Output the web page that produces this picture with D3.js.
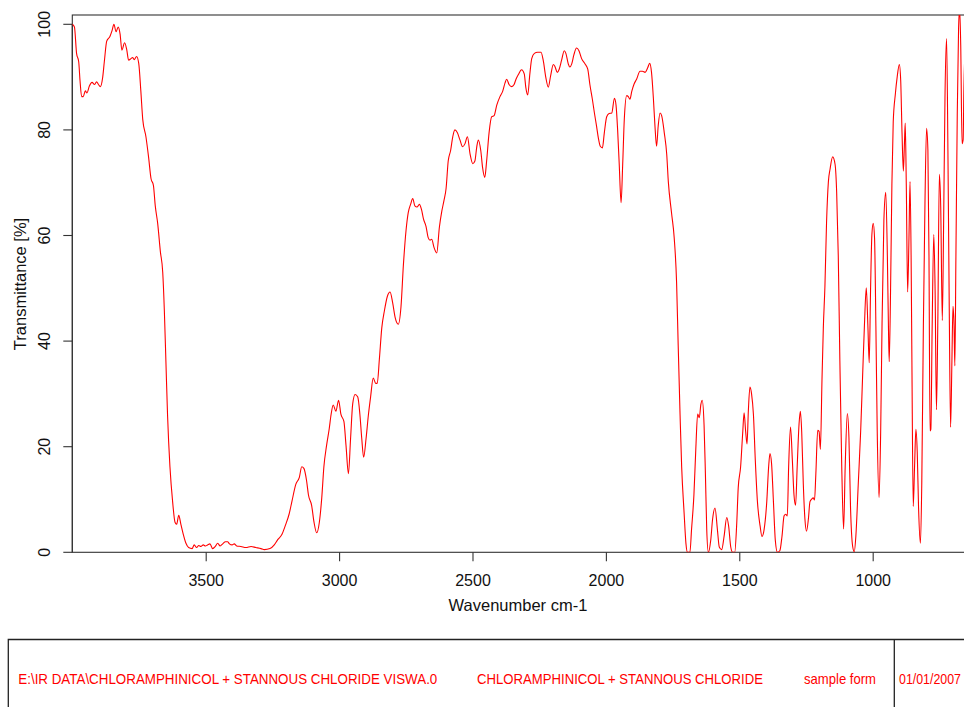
<!DOCTYPE html>
<html>
<head>
<meta charset="utf-8">
<script src="https://cdn.jsdelivr.net/npm/d3@7"></script>
<style>
  html, body { margin: 0; padding: 0; background: #fff; }
  svg { display: block; }
  text { font-family: "Liberation Sans", Arial, sans-serif; }
</style>
</head>
<body>
<svg id="chart"></svg>
<script>
const WIDTH = 964;
const HEIGHT = 707;
const PLOT = { left: 72.3, right: 979.4, top: 15, bottom: 552.3, y100: 24.3 };
const LINE_COLOR = "#ff0000";

// spectrum, high wavenumber first
const wavenumber = [
  4000, 3992, 3984, 3976, 3971, 3965, 3959, 3951, 3945, 3936, 3926, 3917, 3909, 3902, 3895, 3886,
  3880, 3871, 3859, 3851, 3844, 3836, 3828, 3821, 3814, 3804, 3796, 3789, 3780, 3774, 3768, 3759,
  3751, 3743, 3736, 3724, 3714, 3705, 3696, 3689, 3680, 3670, 3661, 3655, 3649, 3643, 3634, 3624,
  3615, 3609, 3601, 3593, 3584, 3574, 3564, 3551, 3543, 3534, 3526, 3518, 3509, 3501, 3493, 3484,
  3474, 3464, 3455, 3446, 3436, 3426, 3418, 3411, 3401, 3393, 3384, 3368, 3349, 3330, 3312, 3293,
  3280, 3259, 3243, 3230, 3214, 3202, 3187, 3177, 3162, 3149, 3140, 3132, 3122, 3115, 3103, 3094,
  3084, 3074, 3065, 3057, 3047, 3037, 3030, 3022, 3012, 3002, 2993, 2982, 2974, 2965, 2957, 2949,
  2940, 2930, 2922, 2915, 2908, 2899, 2890, 2882, 2872, 2863, 2857, 2849, 2840, 2830, 2819, 2809,
  2799, 2790, 2778, 2768, 2759, 2749, 2741, 2732, 2724, 2716, 2708, 2699, 2691, 2684, 2674, 2666,
  2659, 2653, 2644, 2634, 2624, 2615, 2607, 2599, 2591, 2582, 2574, 2566, 2557, 2547, 2537, 2528,
  2519, 2509, 2499, 2491, 2484, 2478, 2469, 2462, 2454, 2447, 2438, 2428, 2419, 2409, 2397, 2387,
  2378, 2372, 2363, 2353, 2344, 2337, 2328, 2316, 2306, 2300, 2293, 2285, 2278, 2268, 2256, 2243,
  2235, 2225, 2216, 2207, 2197, 2191, 2182, 2175, 2166, 2156, 2150, 2141, 2135, 2128, 2120, 2110,
  2101, 2091, 2078, 2068, 2060, 2051, 2043, 2035, 2028, 2021, 2013, 2006, 1997, 1988, 1978, 1968,
  1962, 1956, 1950, 1943, 1937, 1931, 1922, 1916, 1910, 1903, 1895, 1885, 1872, 1863, 1853, 1843,
  1836, 1829, 1822, 1816, 1810, 1804, 1797, 1791, 1781, 1772, 1766, 1754, 1744, 1735, 1729, 1722,
  1716, 1707, 1700, 1694, 1685, 1679, 1670, 1663, 1656, 1650, 1644, 1639, 1632, 1627, 1622, 1616,
  1607, 1600, 1591, 1582, 1575, 1566, 1557, 1547, 1540, 1532, 1525, 1517, 1510, 1504, 1495, 1487,
  1482, 1476, 1471, 1466, 1460, 1454, 1447, 1440, 1432, 1422, 1415, 1407, 1397, 1390, 1385, 1379,
  1372, 1365, 1357, 1348, 1340, 1332, 1326, 1320, 1315, 1308, 1301, 1295, 1289, 1283, 1276, 1271,
  1266, 1260, 1254, 1248, 1241, 1235, 1228, 1223, 1218, 1213, 1206, 1201, 1196, 1190, 1185, 1179,
  1173, 1166, 1160, 1150, 1141, 1135, 1129, 1123, 1116, 1109, 1103, 1095, 1089, 1083, 1075, 1069,
  1063, 1054, 1045, 1038, 1031, 1024, 1018, 1013, 1008, 1003, 998, 993, 988, 983, 976, 970,
  965, 958, 951, 945, 941, 938, 933, 928, 923, 915, 908, 900, 895, 890, 885, 881,
  878, 874, 869, 864, 860, 856, 853, 848, 843, 838, 833, 828, 821, 816, 810, 804,
  798, 793, 789, 785, 782, 777, 771, 766, 761, 756, 750, 745, 739, 734, 729, 723,
  718, 713, 708, 703, 699, 695, 692, 688, 683, 678, 674, 670, 665, 661, 658, 654
];
const transmittance = [
  100, 99.5, 94.5, 92.9, 89.3, 86.3, 86.3, 87.4, 87, 88.3, 89, 88.6, 89.1, 88.6, 88.2, 90,
  92.9, 96.8, 97.7, 98.8, 100, 98.6, 99.5, 98.2, 95.1, 96.5, 95.2, 93.2, 93.5, 93.7, 93.3, 93.9,
  92.6, 87.3, 82, 78.7, 74.8, 70.8, 69.5, 65.6, 62.3, 57, 53, 45.8, 35.9, 26, 16.2, 9.6,
  5.7, 5.3, 7, 5.3, 3.4, 1.7, 0.9, 0.7, 1.4, 0.9, 1.3, 1.1, 1.4, 1.2, 1.4, 1.6,
  0.7, 1.1, 1.7, 1.2, 1.6, 2, 2, 1.6, 1.4, 1.6, 1.2, 1.1, 0.9, 1.1, 0.9, 0.7,
  0.5, 0.7, 1.4, 2.4, 3.4, 5, 7.3, 9.6, 12.9, 14.2, 16.2, 15.9, 13.6, 10.9, 8.9, 5.7,
  3.7, 5.7, 10.3, 16.2, 20.2, 23.4, 26.1, 27.9, 26.7, 28.8, 26.1, 24.8, 20.2, 14.9, 21.5, 28.1,
  29.9, 29.4, 26.1, 21.5, 18, 21.5, 26.1, 29.4, 33, 32, 32, 36.6, 42.5, 45.8, 48.5, 49.3,
  47.2, 44.5, 43.2, 46.5, 54.4, 61, 64.3, 65.9, 67, 65.6, 65.4, 65.9, 64.9, 63.2, 61.7, 59.6,
  59.1, 59.3, 57.7, 56.7, 61.6, 64.6, 66.6, 68.9, 74.1, 76.1, 78.7, 80, 79.5, 78.1, 76.8, 77.4,
  78.7, 75.4, 73.6, 74.1, 76.8, 78.1, 76.1, 72.8, 71, 74.1, 79.4, 82.5, 82.7, 84.7, 86.3, 87.3,
  88.9, 89.6, 88.6, 88.2, 88.6, 89.6, 90.5, 91.4, 90.6, 88, 86.6, 90.6, 93.5, 94.5, 94.7, 94.7,
  93.2, 89.9, 88.1, 90.3, 92.4, 92, 90.9, 91.5, 93.2, 95, 94.5, 92.5, 91.9, 92.5, 94.2, 95.5,
  95, 93.5, 92.5, 91.5, 88.6, 85.9, 83.2, 80.7, 78.4, 76.9, 76.6, 79.4, 82.5, 83.1, 83.2, 86,
  84.7, 80, 73.5, 66.2, 73.5, 82, 86.5, 86.3, 85.8, 87.3, 88.6, 89.6, 91.1, 91.1, 90.9, 91.8,
  92.6, 90.9, 86, 80.7, 76.9, 80.7, 83.2, 82.7, 79.4, 75.4, 70.2, 64.3, 59.6, 51.1, 39.2, 26.1,
  16.2, 7.6, 1.7, 0, 0, 4.3, 10.9, 19.5, 26.2, 25.5, 28, 28.8, 24.1, 14.9, 4.3, 0,
  2.3, 6.3, 8.4, 4.3, 1, 0.5, 3, 6.6, 5, 1, 0, 0, 5, 12.2, 16.2, 22.8,
  26.4, 22.8, 20.5, 26.8, 31.3, 30, 26.1, 17.5, 9.6, 5, 3, 4.3, 9.6, 16.2, 18.7, 16.8,
  9.6, 2.3, 0, 0.3, 3, 6.9, 7.2, 6.9, 16.2, 23.7, 17.4, 10.9, 8.9, 16.2, 24.3, 26.7,
  22.8, 12.9, 6.3, 4, 6.3, 9.6, 10.1, 10.3, 9.9, 14.9, 23.1, 22.9, 19.5, 32.7, 42.5, 50.4,
  62.3, 70.2, 72.5, 74.9, 73.5, 68.2, 56.2, 36.3, 16.3, 4.4, 16.3, 26.3, 21.7, 8.4, 1.1, 0.1,
  3.1, 13, 23, 33, 42.9, 50.1, 42.9, 35.9, 49.6, 60.2, 62.3, 59.5, 42.9, 23, 10.4, 23,
  42.9, 62.9, 68.2, 56.2, 42.9, 36.1, 49.6, 69.6, 81.5, 86.8, 90.1, 92.4, 89.4, 79.4, 72.2, 77.4,
  81.3, 69.5, 49.3, 59.5, 70.2, 56.2, 36.3, 8.7, 16.3, 23.3, 19, 8.4, 1.7, 13, 42.9, 66.2,
  80.3, 76.1, 56.2, 23, 23.3, 42.9, 60.2, 49.6, 27, 42.9, 71.6, 65.5, 43.9, 62.9, 86.1, 97.3,
  76.1, 46.2, 23.7, 36.3, 46.6, 42.9, 35.3, 56.2, 82.8, 99.4, 103, 96.1, 77.4, 78.1, 88.1, 95
];

const xTicks = [3500, 3000, 2500, 2000, 1500, 1000];
const yTicks = [0, 20, 40, 60, 80, 100];
const xTitle = "Wavenumber cm-1";
const yTitle = "Transmittance [%]";
const footerLabels = [
  "E:\\IR DATA\\CHLORAMPHINICOL + STANNOUS CHLORIDE VISWA.0",
  "CHLORAMPHINICOL + STANNOUS CHLORIDE",
  "sample form",
  "01/01/2007"
];

const svg = d3.select("#chart").attr("width", WIDTH).attr("height", HEIGHT);

const x = d3.scaleLinear().domain([4000, 600]).range([PLOT.left, PLOT.right]);
const y = d3.scaleLinear().domain([0, 100]).range([PLOT.bottom, PLOT.y100]);

svg.append("clipPath").attr("id", "plot-clip")
  .append("rect")
  .attr("x", PLOT.left)
  .attr("y", PLOT.top)
  .attr("width", PLOT.right - PLOT.left)
  .attr("height", PLOT.bottom - PLOT.top);

// frame
svg.append("rect")
  .attr("x", PLOT.left)
  .attr("y", PLOT.top)
  .attr("width", PLOT.right - PLOT.left)
  .attr("height", PLOT.bottom - PLOT.top)
  .attr("fill", "none")
  .attr("stroke", "#333")
  .attr("stroke-width", 1.1);

// x axis
const xAxis = svg.append("g")
  .attr("transform", `translate(0,${PLOT.bottom})`)
  .call(d3.axisBottom(x).tickValues(xTicks).tickSize(9).tickPadding(13.3).tickFormat(d3.format("d")));
xAxis.select(".domain").remove();
xAxis.selectAll("line").attr("stroke", "#333").attr("stroke-width", 1.1);
xAxis.selectAll("text").attr("fill", "#111").style("font-size", "16px")
  .style("font-family", '"Liberation Sans", Arial, sans-serif');

// y axis, labels turned like the original
const yAxis = svg.append("g");
yAxis.selectAll("line")
  .data(yTicks)
  .enter()
  .append("line")
  .attr("x1", PLOT.left - 9)
  .attr("x2", PLOT.left)
  .attr("y1", (d) => y(d))
  .attr("y2", (d) => y(d))
  .attr("stroke", "#333")
  .attr("stroke-width", 1.1);
yAxis.append("line")
  .attr("x1", PLOT.left).attr("x2", PLOT.left)
  .attr("y1", y(0)).attr("y2", y(100))
  .attr("stroke", "#333").attr("stroke-width", 1.1);
yAxis.selectAll("text")
  .data(yTicks)
  .enter()
  .append("text")
  .attr("transform", (d) => `translate(50,${y(d)}) rotate(-90)`)
  .attr("text-anchor", "middle")
  .attr("fill", "#111")
  .style("font-size", "16px")
  .text((d) => d);

svg.append("text")
  .attr("x", 518)
  .attr("y", 611)
  .attr("text-anchor", "middle")
  .attr("fill", "#111")
  .style("font-size", "16.5px")
  .text(xTitle);

svg.append("text")
  .attr("transform", "translate(25.5,284) rotate(-90)")
  .attr("text-anchor", "middle")
  .attr("fill", "#111")
  .style("font-size", "16.5px")
  .text(yTitle);

// spectrum
const points = wavenumber.map((w, i) => [w, transmittance[i]]);
const line = d3.line()
  .x((d) => x(d[0]))
  .y((d) => y(d[1]))
  .curve(d3.curveMonotoneX);

svg.append("path")
  .datum(points)
  .attr("clip-path", "url(#plot-clip)")
  .attr("fill", "none")
  .attr("stroke", LINE_COLOR)
  .attr("stroke-width", 1.1)
  .attr("stroke-linejoin", "round")
  .attr("d", line);

// info strip at the bottom
const footer = svg.append("g");
footer.append("path")
  .attr("d", "M8.3,720 V639.5 H980 M894.3,639.5 V720")
  .attr("fill", "none")
  .attr("stroke", "#222")
  .attr("stroke-width", 1.3);

const footerX = [18.3, 477, 804, 899];
const footerW = [419, 286, 72, 62];
footer.selectAll("text")
  .data(footerLabels)
  .enter()
  .append("text")
  .attr("x", (d, i) => footerX[i])
  .attr("y", 683.5)
  .attr("textLength", (d, i) => footerW[i])
  .attr("lengthAdjust", "spacingAndGlyphs")
  .attr("fill", LINE_COLOR)
  .style("font-size", "14.5px")
  .style("font-family", '"Liberation Sans Narrow", "Arial Narrow", "Liberation Sans", sans-serif')
  .text((d) => d);
</script>
</body>
</html>
